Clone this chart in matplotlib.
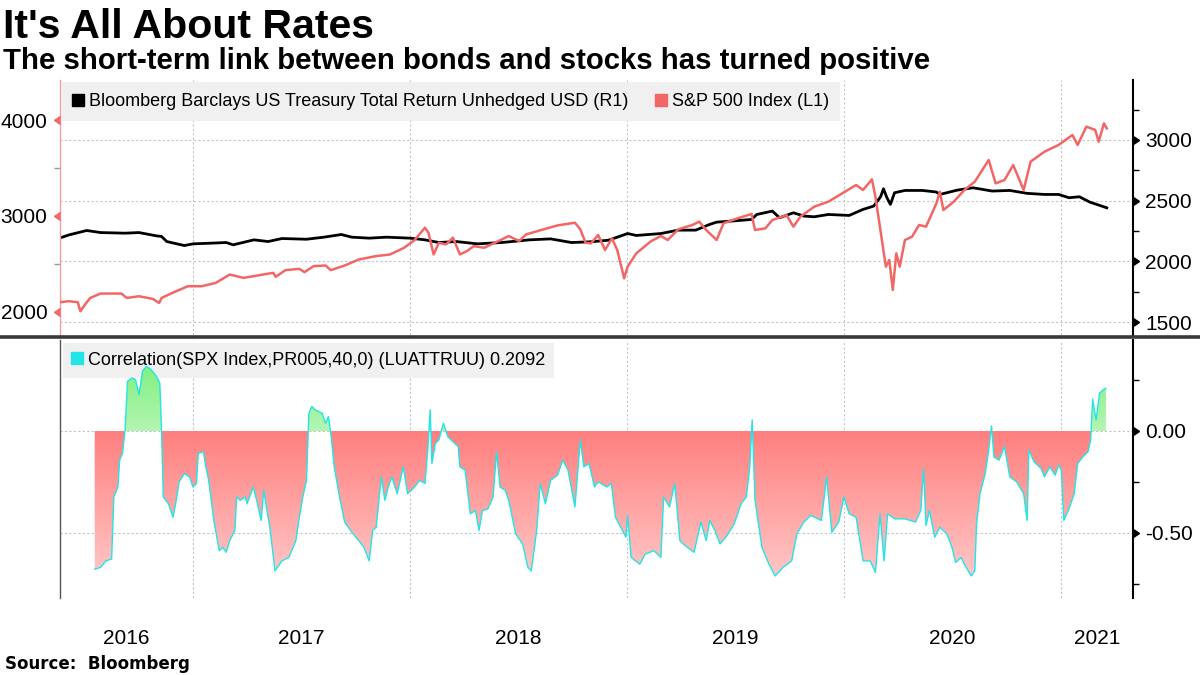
import numpy as np
import matplotlib
matplotlib.use("Agg")
import matplotlib.pyplot as plt
from matplotlib.path import Path
from matplotlib.lines import Line2D
from matplotlib.colors import LinearSegmentedColormap
from matplotlib.transforms import blended_transform_factory
import matplotlib.ticker as mticker

plt.rcParams['axes.unicode_minus'] = False

# ---------------- data (time as decimal years) ----------------
tsy_t = [2016.384, 2016.429, 2016.510, 2016.574, 2016.687, 2016.751, 2016.831, 2016.855, 2016.879, 2016.960,
         2017.000, 2017.088, 2017.153, 2017.185, 2017.281, 2017.346, 2017.410, 2017.523, 2017.603, 2017.683,
         2017.732, 2017.812, 2017.892, 2018.000, 2018.069, 2018.133, 2018.214, 2018.310, 2018.423, 2018.551,
         2018.648, 2018.744, 2018.834, 2018.915, 2019.003, 2019.043, 2019.156, 2019.236, 2019.317, 2019.381,
         2019.413, 2019.477, 2019.574, 2019.598, 2019.670, 2019.703, 2019.767, 2019.815, 2019.863, 2019.928,
         2020.024, 2020.088, 2020.137, 2020.169, 2020.182, 2020.198, 2020.214, 2020.233, 2020.281, 2020.362,
         2020.426, 2020.442, 2020.523, 2020.595, 2020.683, 2020.764, 2020.844, 2020.924, 2020.989, 2021.037,
         2021.085, 2021.133, 2021.211]
tsy_v = [2191, 2218, 2254, 2237, 2232, 2237, 2210, 2205, 2163, 2130,
         2144, 2150, 2155, 2136, 2177, 2163, 2188, 2182, 2199, 2221,
         2199, 2191, 2199, 2191, 2177, 2155, 2163, 2144, 2155, 2177,
         2185, 2155, 2161, 2174, 2229, 2213, 2229, 2257, 2257, 2304,
         2323, 2331, 2345, 2386, 2414, 2359, 2400, 2373, 2367, 2386,
         2378, 2428, 2455, 2532, 2598, 2524, 2469, 2565, 2584, 2584,
         2571, 2551, 2587, 2606, 2579, 2584, 2560, 2551, 2551, 2524,
         2532, 2488, 2441]

spx_t = [2016.384, 2016.429, 2016.469, 2016.481, 2016.502, 2016.526, 2016.574, 2016.670, 2016.695, 2016.751,
         2016.815, 2016.844, 2016.855, 2016.912, 2016.976, 2017.040, 2017.105, 2017.169, 2017.233, 2017.297,
         2017.370, 2017.381, 2017.426, 2017.490, 2017.514, 2017.555, 2017.611, 2017.635, 2017.699, 2017.764,
         2017.844, 2017.908, 2017.973, 2018.021, 2018.069, 2018.085, 2018.109, 2018.133, 2018.166, 2018.198,
         2018.230, 2018.262, 2018.294, 2018.342, 2018.391, 2018.455, 2018.503, 2018.535, 2018.616, 2018.680,
         2018.760, 2018.785, 2018.809, 2018.834, 2018.867, 2018.899, 2018.931, 2018.955, 2018.987, 2019.003,
         2019.043, 2019.108, 2019.156, 2019.188, 2019.236, 2019.301, 2019.333, 2019.365, 2019.413, 2019.445,
         2019.510, 2019.574, 2019.590, 2019.638, 2019.670, 2019.735, 2019.767, 2019.799, 2019.863, 2019.928,
         2019.992, 2020.056, 2020.088, 2020.129, 2020.145, 2020.161, 2020.193, 2020.209, 2020.225, 2020.241,
         2020.257, 2020.281, 2020.314, 2020.346, 2020.378, 2020.426, 2020.442, 2020.458, 2020.506, 2020.555,
         2020.603, 2020.667, 2020.699, 2020.740, 2020.780, 2020.828, 2020.860, 2020.924, 2020.989, 2021.053,
         2021.077, 2021.117, 2021.158, 2021.174, 2021.198, 2021.211]
spx_v = [2101, 2112, 2101, 2007, 2077, 2146, 2192, 2192, 2146, 2164,
         2136, 2094, 2146, 2206, 2268, 2268, 2303, 2390, 2355, 2380,
         2408, 2366, 2436, 2449, 2415, 2477, 2484, 2436, 2484, 2547,
         2582, 2599, 2669, 2749, 2878, 2826, 2599, 2721, 2704, 2774,
         2599, 2634, 2686, 2669, 2721, 2791, 2739, 2808, 2861, 2902,
         2930, 2861, 2721, 2715, 2802, 2646, 2767, 2646, 2351, 2472,
         2611, 2733, 2792, 2750, 2861, 2906, 2941, 2854, 2750, 2924,
         2976, 3021, 2854, 2872, 2958, 3010, 2889, 2993, 3097, 3149,
         3236, 3323, 3271, 3382, 3201, 2958, 2472, 2542, 2229, 2611,
         2472, 2750, 2785, 2906, 2889, 3132, 3253, 3062, 3149, 3271,
         3358, 3583, 3340, 3375, 3531, 3271, 3566, 3670, 3740, 3844,
         3740, 3931, 3896, 3774, 3965, 3913]

corr_t = [2016.547, 2016.574, 2016.598, 2016.625, 2016.635, 2016.654, 2016.662, 2016.675, 2016.687, 2016.698,
          2016.719, 2016.735, 2016.751, 2016.767, 2016.786, 2016.807, 2016.831, 2016.847, 2016.855, 2016.863,
          2016.887, 2016.908, 2016.920, 2016.936, 2016.960, 2016.984, 2017.000, 2017.016, 2017.024, 2017.048,
          2017.059, 2017.072, 2017.096, 2017.121, 2017.137, 2017.153, 2017.169, 2017.193, 2017.201, 2017.217,
          2017.241, 2017.249, 2017.278, 2017.297, 2017.314, 2017.326, 2017.338, 2017.354, 2017.378, 2017.410,
          2017.442, 2017.474, 2017.490, 2017.506, 2017.523, 2017.534, 2017.547, 2017.563, 2017.579, 2017.595,
          2017.611, 2017.624, 2017.635, 2017.651, 2017.675, 2017.699, 2017.732, 2017.764, 2017.788, 2017.812,
          2017.828, 2017.844, 2017.868, 2017.884, 2017.900, 2017.916, 2017.941, 2017.969, 2017.989, 2018.021,
          2018.045, 2018.069, 2018.082, 2018.093, 2018.101, 2018.117, 2018.133, 2018.154, 2018.174, 2018.198,
          2018.222, 2018.230, 2018.254, 2018.278, 2018.302, 2018.318, 2018.334, 2018.359, 2018.383, 2018.399,
          2018.415, 2018.439, 2018.455, 2018.487, 2018.519, 2018.543, 2018.559, 2018.584, 2018.600, 2018.624,
          2018.648, 2018.680, 2018.704, 2018.728, 2018.760, 2018.785, 2018.801, 2018.825, 2018.850, 2018.867,
          2018.907, 2018.928, 2018.947, 2018.971, 2018.995, 2019.003, 2019.019, 2019.059, 2019.084, 2019.124,
          2019.156, 2019.169, 2019.196, 2019.220, 2019.244, 2019.268, 2019.309, 2019.341, 2019.365, 2019.381,
          2019.405, 2019.429, 2019.461, 2019.494, 2019.526, 2019.550, 2019.566, 2019.577, 2019.590, 2019.622,
          2019.654, 2019.683, 2019.719, 2019.759, 2019.783, 2019.815, 2019.847, 2019.896, 2019.920, 2019.944,
          2019.976, 2020.000, 2020.024, 2020.056, 2020.088, 2020.121, 2020.145, 2020.166, 2020.185, 2020.201,
          2020.233, 2020.281, 2020.330, 2020.354, 2020.367, 2020.378, 2020.394, 2020.418, 2020.442, 2020.474,
          2020.498, 2020.515, 2020.539, 2020.563, 2020.587, 2020.603, 2020.611, 2020.627, 2020.651, 2020.667,
          2020.680, 2020.691, 2020.715, 2020.740, 2020.764, 2020.796, 2020.828, 2020.844, 2020.852, 2020.876,
          2020.908, 2020.924, 2020.949, 2020.973, 2020.989, 2021.002, 2021.013, 2021.037, 2021.061, 2021.077,
          2021.101, 2021.125, 2021.137, 2021.146, 2021.162, 2021.178, 2021.195, 2021.207]
corr_v = [-0.678, -0.669, -0.637, -0.628, -0.324, -0.275, -0.143, -0.110, 0.005, 0.243,
          0.260, 0.252, 0.178, 0.293, 0.317, 0.301, 0.268, 0.235, 0.005, -0.324,
          -0.357, -0.423, -0.357, -0.250, -0.209, -0.225, -0.275, -0.258, -0.110, -0.102,
          -0.176, -0.242, -0.439, -0.587, -0.571, -0.595, -0.538, -0.488, -0.324, -0.340,
          -0.324, -0.357, -0.275, -0.357, -0.439, -0.291, -0.373, -0.472, -0.686, -0.637,
          -0.620, -0.538, -0.423, -0.324, -0.242, 0.087, 0.120, 0.104, 0.095, 0.087,
          0.038, 0.071, -0.012, -0.176, -0.324, -0.447, -0.497, -0.538, -0.571, -0.637,
          -0.488, -0.472, -0.225, -0.340, -0.275, -0.225, -0.308, -0.176, -0.308, -0.275,
          -0.242, -0.258, -0.094, 0.104, -0.160, -0.061, -0.044, 0.038, -0.028, -0.053,
          -0.077, -0.176, -0.192, -0.406, -0.390, -0.488, -0.390, -0.382, -0.324, -0.102,
          -0.275, -0.291, -0.340, -0.505, -0.554, -0.669, -0.686, -0.488, -0.258, -0.357,
          -0.242, -0.217, -0.143, -0.192, -0.373, -0.044, -0.176, -0.160, -0.275, -0.250,
          -0.275, -0.258, -0.423, -0.472, -0.521, -0.414, -0.620, -0.653, -0.604, -0.587,
          -0.620, -0.324, -0.373, -0.258, -0.538, -0.562, -0.595, -0.447, -0.538, -0.439,
          -0.488, -0.554, -0.513, -0.456, -0.357, -0.324, -0.176, 0.054, -0.340, -0.571,
          -0.653, -0.711, -0.669, -0.637, -0.505, -0.447, -0.414, -0.439, -0.225, -0.497,
          -0.447, -0.324, -0.406, -0.423, -0.637, -0.637, -0.694, -0.406, -0.637, -0.406,
          -0.431, -0.431, -0.447, -0.390, -0.184, -0.464, -0.390, -0.521, -0.472, -0.505,
          -0.571, -0.645, -0.620, -0.669, -0.711, -0.686, -0.456, -0.308, -0.209, -0.094,
          0.025, -0.127, -0.143, -0.077, -0.225, -0.250, -0.308, -0.439, -0.094, -0.151,
          -0.184, -0.225, -0.176, -0.217, -0.168, -0.192, -0.439, -0.382, -0.308, -0.160,
          -0.127, -0.102, -0.044, 0.156, 0.054, 0.186, 0.202, 0.209]

year_labels = [2016, 2017, 2018, 2019, 2020, 2021]
year_bounds = [2017, 2018, 2019, 2020, 2021]

title = "It's All About Rates"
subtitle = "The short-term link between bonds and stocks has turned positive"
source = "Source:  Bloomberg"
tsy_label = "Bloomberg Barclays US Treasury Total Return Unhedged USD (R1)"
spx_label = "S&P 500 Index (L1)"
corr_label = "Correlation(SPX Index,PR005,40,0) (LUATTRUU) 0.2092"

# ---------------- style ----------------
X0, X1 = 2016.387, 2021.332
SPX_C = '#f26666'
CYAN = '#22e5e5'
GRID_C = '#c4c4c4'
TXT_FONT = ['Liberation Sans', 'DejaVu Sans']
HEAD_FONT = ['Liberation Sans Narrow', 'Liberation Sans', 'DejaVu Sans']

W, H = 1200, 675
fig = plt.figure(figsize=(W / 100, H / 100), dpi=100)
fig.patch.set_facecolor('white')


def fy(px):
    return 1 - px / H


L, R = 60 / W, 1133 / W
ax1 = fig.add_axes([L, fy(335), R - L, fy(80) - fy(335)])
ax1t = ax1.twinx()
ax2 = fig.add_axes([L, fy(598), R - L, fy(340) - fy(598)])

for a in (ax1, ax1t, ax2):
    a.set_xlim(X0, X1)
    for s in ('top', 'bottom'):
        a.spines[s].set_visible(False)

ax1.set_ylim(1393, 3494)
ax1t.set_ylim(1760, 4417)
ax2.set_ylim(-0.819, 0.446)

# gridlines
for yb in year_bounds:
    ax1.axvline(yb, color=GRID_C, lw=0.8, ls=(0, (2, 2)), zorder=0)
    ax2.axvline(yb, color=GRID_C, lw=0.8, ls=(0, (2, 2)), zorder=0)
for gy in [1500, 2000, 2500, 3000]:
    ax1.axhline(gy, color=GRID_C, lw=0.8, ls=(0, (2, 2)), zorder=0)
for gy in [0.0, -0.5]:
    ax2.axhline(gy, color=GRID_C, lw=0.8, ls=(0, (2, 2)), zorder=0)

# lines
ax1.plot(tsy_t, tsy_v, color='black', lw=2.0, zorder=3)
ax1t.plot(spx_t, spx_v, color=SPX_C, lw=1.8, zorder=3)

# --- axis styling top panel ---
ax1.spines['left'].set_visible(False)
ax1.spines['right'].set_color('black')
ax1.spines['right'].set_linewidth(1.5)
ax1.yaxis.tick_right()
ax1.set_yticks([1500, 2000, 2500, 3000])
ax1.yaxis.set_minor_locator(mticker.FixedLocator([1750, 2250, 2750, 3250]))
ax1.tick_params(axis='y', which='major', length=0, pad=9, labelsize=15)
ax1.tick_params(axis='y', which='minor', length=4, width=1, color='black')
ax1.set_xticks([])

ax1t.spines['right'].set_visible(False)
ax1t.spines['left'].set_visible(True)
ax1t.spines['left'].set_color('#f4a0a0')
ax1t.spines['left'].set_linewidth(1.0)
ax1t.yaxis.tick_left()
ax1t.set_yticks([2000, 3000, 4000])
ax1t.yaxis.set_minor_locator(mticker.FixedLocator([2500, 3500]))
ax1t.tick_params(axis='y', which='major', length=0, pad=9, labelsize=15)
ax1t.tick_params(axis='y', which='minor', length=4, width=1, color='#999999')
ax1t.set_xticks([])

for lab in ax1.get_yticklabels() + ax1t.get_yticklabels():
    lab.set_fontfamily(TXT_FONT)

# triangle tick markers
trR = blended_transform_factory(ax1.transAxes, ax1.transData)
ax1.plot([1.0] * 4, [1500, 2000, 2500, 3000], ls='', marker=9, ms=6, color='black',
         transform=trR, clip_on=False, zorder=5)
trL = blended_transform_factory(ax1t.transAxes, ax1t.transData)
ax1t.plot([0.0] * 3, [2000, 3000, 4000], ls='', marker=8, ms=6, color=SPX_C,
          transform=trL, clip_on=False, zorder=5)

# legend top
hnd = [Line2D([], [], ls='', marker='s', color='black', ms=9),
       Line2D([], [], ls='', marker='s', color=SPX_C, ms=9)]
leg = ax1t.legend(hnd, [tsy_label, spx_label], loc='upper left', bbox_to_anchor=(0, 1),
                  ncol=2, frameon=True, fancybox=False, facecolor='#f0f0f0', edgecolor='none',
                  framealpha=1, handlelength=0.6, handletextpad=0.3, columnspacing=1.5,
                  borderpad=0.6, borderaxespad=0.12, prop={'family': TXT_FONT, 'size': 13.0})
leg.set_zorder(10)

# --- bottom panel ---
def with_crossings(t, v):
    t = np.asarray(t, float)
    v = np.asarray(v, float)
    xs, ys = [t[0]], [v[0]]
    for i in range(1, len(t)):
        if v[i - 1] * v[i] < 0:
            tc = t[i - 1] - v[i - 1] * (t[i] - t[i - 1]) / (v[i] - v[i - 1])
            xs.append(tc)
            ys.append(0.0)
        xs.append(t[i])
        ys.append(v[i])
    return np.array(xs), np.array(ys)


xx, yy = with_crossings(corr_t, corr_v)
grad = np.linspace(0, 1, 256).reshape(-1, 1)

red_poly = ax2.fill_between(xx, np.minimum(yy, 0), 0, facecolor='none', edgecolor='none')
red_path = Path.make_compound_path(*red_poly.get_paths())
red_cmap = LinearSegmentedColormap.from_list('rr', ['#ff7f7f', '#ffcaca'])
im_r = ax2.imshow(grad, extent=[X0, X1, -0.75, 0.0], origin='upper', cmap=red_cmap,
                  aspect='auto', zorder=1, interpolation='bilinear')
im_r.set_clip_path(red_path, transform=ax2.transData)

grn_poly = ax2.fill_between(xx, np.maximum(yy, 0), 0, facecolor='none', edgecolor='none')
grn_path = Path.make_compound_path(*grn_poly.get_paths())
grn_cmap = LinearSegmentedColormap.from_list('gg', ['#7ef07e', '#b4f5b4'])
im_g = ax2.imshow(grad, extent=[X0, X1, 0.0, 0.33], origin='upper', cmap=grn_cmap,
                  aspect='auto', zorder=1, interpolation='bilinear')
im_g.set_clip_path(grn_path, transform=ax2.transData)

ax2.plot(corr_t, corr_v, color=CYAN, lw=1.0, zorder=3)
ax2.set_xlim(X0, X1)
ax2.set_ylim(-0.819, 0.446)

ax2.spines['left'].set_color('#555555')
ax2.spines['left'].set_linewidth(1.0)
ax2.spines['right'].set_color('black')
ax2.spines['right'].set_linewidth(1.5)
ax2.yaxis.tick_right()
ax2.set_yticks([-0.5, 0.0])
ax2.yaxis.set_major_formatter(mticker.FormatStrFormatter('%.2f'))
ax2.yaxis.set_minor_locator(mticker.FixedLocator([-0.75, -0.25, 0.25]))
ax2.tick_params(axis='y', which='major', length=0, pad=9, labelsize=15)
ax2.tick_params(axis='y', which='minor', length=4, width=1, color='black')
trR2 = blended_transform_factory(ax2.transAxes, ax2.transData)
ax2.plot([1.0] * 2, [-0.5, 0.0], ls='', marker=9, ms=6, color='black',
         transform=trR2, clip_on=False, zorder=5)

# year labels centred within each year's visible span
mids = [(max(y, X0) + min(y + 1, X1)) / 2 for y in year_labels]
ax2.set_xticks(mids)
ax2.set_xticklabels([str(y) for y in year_labels])
ax2.tick_params(axis='x', length=0, pad=22, labelsize=15)
for lab in ax2.get_xticklabels() + ax2.get_yticklabels():
    lab.set_fontfamily(TXT_FONT)

hnd2 = [Line2D([], [], ls='', marker='s', color=CYAN, ms=9)]
leg2 = ax2.legend(hnd2, [corr_label], loc='upper left', bbox_to_anchor=(0, 1),
                  frameon=True, fancybox=False, facecolor='#f0f0f0', edgecolor='none',
                  framealpha=1, handlelength=0.6, handletextpad=0.3,
                  borderpad=0.5, borderaxespad=0.15, prop={'family': TXT_FONT, 'size': 13.0})
leg2.set_zorder(0.5)

# separator bar between panels
fig.add_artist(Line2D([0, 1], [fy(336.5), fy(336.5)], transform=fig.transFigure,
                      color='#3a3a3a', lw=2.6))

# titles
fig.text(3 / W, fy(38), title, fontsize=29.5, fontweight='bold', family=HEAD_FONT, va='baseline')
fig.text(3 / W, fy(69), subtitle, fontsize=21.2, fontweight='bold', family=HEAD_FONT, va='baseline')
fig.text(5 / W, fy(669), source, fontsize=12, fontweight='bold', family=['DejaVu Sans'], va='baseline')

fig.savefig('out.png', dpi=100)
